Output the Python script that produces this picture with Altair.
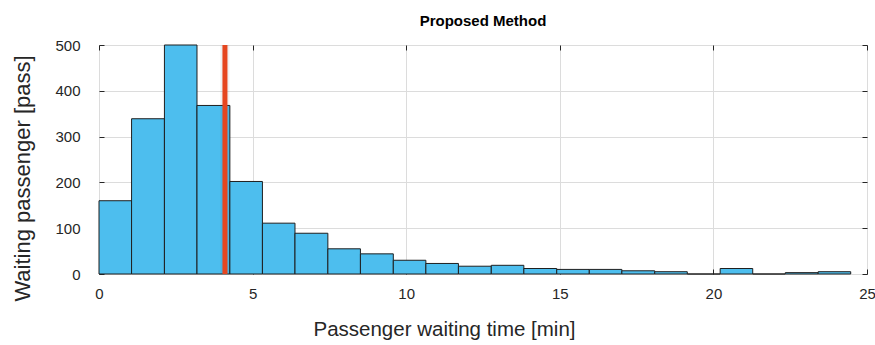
import altair as alt
import pandas as pd

# Histogram bins (minutes) and counts
bin_start = [0.00, 1.06, 2.13, 3.19, 4.26, 5.32, 6.38, 7.45, 8.51, 9.58,
             10.64, 11.70, 12.77, 13.83, 14.90, 15.96, 17.02, 18.09, 19.15,
             20.22, 21.28, 22.34, 23.41]
bin_end = [1.06, 2.13, 3.19, 4.26, 5.32, 6.38, 7.45, 8.51, 9.58, 10.64,
           11.70, 12.77, 13.83, 14.90, 15.96, 17.02, 18.09, 19.15, 20.22,
           21.28, 22.34, 23.41, 24.47]
counts = [160, 339, 500, 368, 202, 111, 89, 55, 44, 30, 23, 17, 19, 12,
          10, 10, 7, 5, 0, 12, 0, 3, 5]
mean_wait = [4.1]
x_ticks = [0, 5, 10, 15, 20, 25]
y_ticks = [0, 100, 200, 300, 400, 500]

df = pd.DataFrame({"start": bin_start, "end": bin_end, "count": counts})
mean_df = pd.DataFrame({"mean": mean_wait})

FONT = "Liberation Sans"
TXT = "#262626"

xscale = alt.Scale(domain=[0, 25], nice=False, zero=False)
yscale = alt.Scale(domain=[0, 500], nice=False)

common_axis = dict(offset=-5, tickSize=5, tickColor=TXT, tickWidth=1,
                   domain=False, labelFlush=False)

bars = alt.Chart(df).mark_bar(
    fill="#4DBEEE", stroke="#1f1f1f", strokeWidth=1, opacity=1
).encode(
    x=alt.X("start:Q", scale=xscale,
            axis=alt.Axis(values=x_ticks, title="Passenger waiting time [min]",
                          labelFontSize=15, labelPadding=12, labelColor=TXT,
                          titleFontSize=20.5, titleFontWeight="normal",
                          titleColor=TXT, titlePadding=18, titleX=345,
                          grid=True, gridColor="#dcdcdc", labelFont=FONT,
                          titleFont=FONT, **common_axis)),
    x2="end:Q",
    y=alt.Y("count:Q", scale=yscale,
            axis=alt.Axis(values=y_ticks, title="Waiting passenger [pass]",
                          labelFontSize=15, labelPadding=19, labelColor=TXT,
                          titleFontSize=22, titleFontWeight="normal",
                          titleColor=TXT, titlePadding=20, titleY=133,
                          grid=True, gridColor="#dcdcdc", labelFont=FONT,
                          titleFont=FONT, **common_axis)),
    y2=alt.datum(0),
)

frame = alt.Chart(df).mark_bar(opacity=0).encode(
    x=alt.X("start:Q", scale=xscale,
            axis=alt.Axis(values=x_ticks, orient="top", labels=False,
                          title=None, grid=False, **common_axis)),
    x2="end:Q",
    y=alt.Y("count:Q", scale=yscale,
            axis=alt.Axis(values=y_ticks, orient="right", labels=False,
                          title=None, grid=False, **common_axis)),
    y2=alt.datum(0),
)

shadow = alt.Chart(mean_df).mark_rule(
    color="#000000", strokeWidth=9, opacity=0.06
).encode(x=alt.X("mean:Q", scale=xscale, axis=None))

mean_rule = alt.Chart(mean_df).mark_rule(
    color="#E5461F", strokeWidth=5
).encode(x=alt.X("mean:Q", scale=xscale, axis=None))

chart = alt.layer(bars, frame, shadow, mean_rule).resolve_axis(
    x="independent", y="independent"
).properties(
    width=768, height=229,
    title=alt.TitleParams("Proposed Method", font=FONT, fontSize=15,
                          fontWeight="bold", color="#000000", anchor="middle",
                          offset=9),
    autosize=alt.AutoSizeParams(type="none"),
    padding={"left": 99, "top": 45, "right": 8, "bottom": 71},
).configure_view(
    stroke=TXT, strokeWidth=1
).configure(background="white")

chart.save("out.html", embed_options={"renderer": "svg", "actions": False})
